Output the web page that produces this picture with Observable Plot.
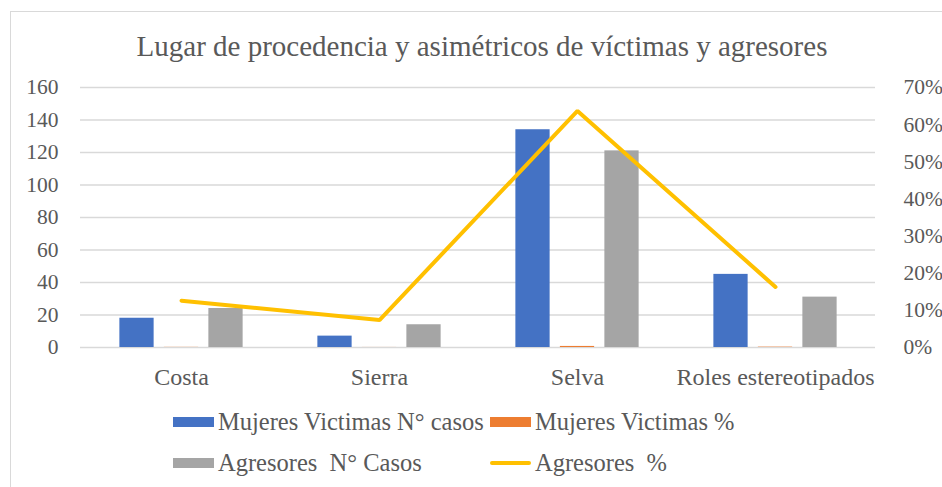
<!DOCTYPE html>
<html>
<head>
<meta charset="utf-8">
<script src="https://cdn.jsdelivr.net/npm/d3@7"></script>
<script src="https://cdn.jsdelivr.net/npm/@observablehq/plot@0.6"></script>
<style>
  html, body { margin: 0; padding: 0; background: #fff; }
  body { width: 942px; height: 487px; position: relative; overflow: hidden; font-family: 'Liberation Serif'; color: #595959; }
  #frame { position: absolute; left: 10px; top: 11px; width: 1000px; height: 600px; border-left: 1px solid #d9d9d9; border-top: 1px solid #d9d9d9; }
  #title { position: absolute; left: 0; width: 964px; top: 28px; text-align: center; font-family: 'Liberation Serif'; font-size: 29px; line-height: 36px; }
  #chart { position: absolute; left: 0; top: 60px; }
  #chart svg { overflow: visible; }
  .leg { position: absolute; font-family: 'Liberation Serif'; font-size: 24.5px; line-height: 26px; white-space: pre; display: flex; align-items: center; }
  .sw { display: inline-block; width: 41px; height: 10px; margin-right: 4px; }
  .ln { display: inline-block; width: 41px; height: 4px; margin-right: 4px; border-radius: 2px; }
</style>
</head>
<body>
<div id="frame"></div>
<div id="title">Lugar de procedencia y asimétricos de víctimas y agresores</div>
<div id="chart"></div>
<div id="legend"></div>
<script>
const categories = ["Costa", "Sierra", "Selva", "Roles estereotipados"];
const mujeresCasos = [18, 7, 134, 45];
const mujeresPct = [0.088, 0.034, 0.657, 0.221];
const agresoresCasos = [24, 14, 121, 31];
const agresoresPct = [0.126, 0.074, 0.637, 0.163];
const leftTicks = [0, 20, 40, 60, 80, 100, 120, 140, 160];
const rightTicks = [0, 0.1, 0.2, 0.3, 0.4, 0.5, 0.6, 0.7];
const seriesNames = ["Mujeres Victimas N° casos", "Mujeres Victimas %", "Agresores  N° Casos", "Agresores  %"];
const colors = ["#4472C4", "#ED7D31", "#A5A5A5", "#FFC000"];

const leftMax = 160, rightMax = 0.7;
const toLeft = p => p * leftMax / rightMax;

const rows = categories.map((c, i) => ({
  cat: c,
  mc: mujeresCasos[i],
  mp: mujeresPct[i],
  ac: agresoresCasos[i],
  ap: toLeft(agresoresPct[i])
}));

const bandW = (942 - 80 - 67) / 4;
const barW = 35;
const inset = (bandW - barW) / 2;
const step = 44.5;

const plot = Plot.plot({
  width: 942,
  height: 340,
  marginLeft: 80,
  marginRight: 67,
  marginTop: 27,
  marginBottom: 53,
  style: { fontFamily: "Liberation Serif", fontSize: "21.5px", color: "#595959", background: "transparent", overflow: "visible" },
  x: { domain: categories, padding: 0, label: null },
  y: { domain: [0, leftMax], label: null },
  marks: [
    Plot.gridY(leftTicks, { stroke: "#d9d9d9", strokeOpacity: 1, strokeWidth: 1.5 }),
    Plot.barY(rows, { x: "cat", y: "mc", fill: colors[0], insetLeft: inset, insetRight: inset, dx: -step }),
    Plot.barY(rows, { x: "cat", y: "mp", fill: colors[1], insetLeft: inset, insetRight: inset }),
    Plot.barY(rows, { x: "cat", y: "ac", fill: colors[2], insetLeft: inset, insetRight: inset, dx: step }),
    Plot.line(rows, { x: "cat", y: "ap", stroke: colors[3], strokeWidth: 4, strokeLinejoin: "miter", strokeLinecap: "round" }),
    Plot.axisY(leftTicks, { anchor: "left", tickSize: 0, tickPadding: 22, fill: "#595959", fontSize: 21.5, label: null }),
    Plot.axisY(rightTicks.map(toLeft), { anchor: "right", tickSize: 0, tickPadding: 20, dx: 8, fill: "#595959", fontSize: 21.5, label: null,
      tickFormat: v => Math.round(v * rightMax / leftMax * 100) + "%" }),
    Plot.axisX({ tickSize: 0, tickPadding: 20, fill: "#595959", fontSize: 24, label: null })
  ]
});
document.getElementById("chart").appendChild(plot);

const legendPos = [
  { left: 173, top: 409 }, { left: 490, top: 409 },
  { left: 173, top: 450 }, { left: 490, top: 450 }
];
const legend = document.getElementById("legend");
seriesNames.forEach((name, i) => {
  const d = document.createElement("div");
  d.className = "leg";
  d.style.left = legendPos[i].left + "px";
  d.style.top = legendPos[i].top + "px";
  const s = document.createElement("span");
  s.className = i === 3 ? "ln" : "sw";
  s.style.background = colors[i];
  d.appendChild(s);
  d.appendChild(document.createTextNode(name));
  legend.appendChild(d);
});
</script>
</body>
</html>
